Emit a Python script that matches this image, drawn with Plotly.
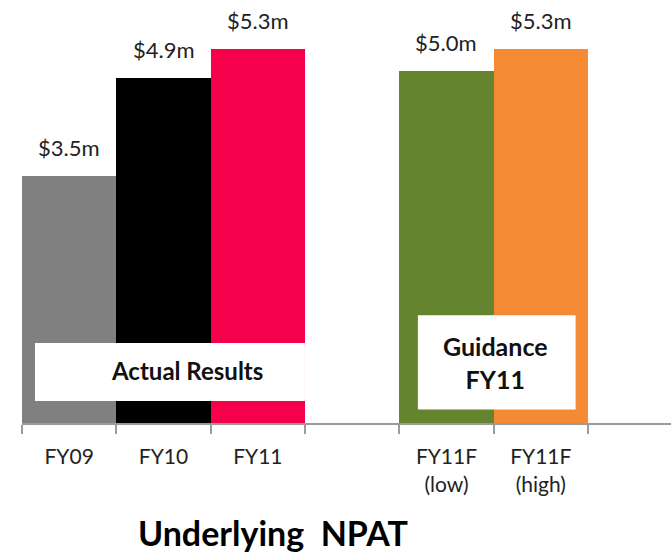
import plotly.graph_objects as go

# ---- data ----
categories = ["FY09", "FY10", "FY11", " ", "FY11F<br>(low)", "FY11F<br>(high)"]
bar_categories = ["FY09", "FY10", "FY11", "FY11F<br>(low)", "FY11F<br>(high)"]
npat_values = [3.5, 4.9, 5.3, 5.0, 5.3]
bar_colors = ["#808080", "#000000", "#F5004B", "#64842F", "#F48B34"]
value_labels = ["$3.5m", "$4.9m", "$5.3m", "$5.0m", "$5.3m"]

FONT = "Lato, 'Open Sans', 'DejaVu Sans', sans-serif"

fig = go.Figure()
fig.add_trace(go.Bar(
    x=bar_categories,
    y=npat_values,
    marker=dict(color=bar_colors, line=dict(width=0)),
    width=1.0,
    hoverinfo="skip",
))

# value labels above bars
for cat, val, lab in zip(bar_categories, npat_values, value_labels):
    fig.add_annotation(
        x=cat, y=val, xref="x", yref="y", text=lab, showarrow=False,
        yanchor="bottom", yshift=13,
        font=dict(family=FONT, size=22, color="#222222"),
    )

# "Actual Results" box
fig.add_shape(type="rect", xref="paper", yref="paper",
              x0=0.020, x1=0.436, y0=0.052, y1=0.189,
              fillcolor="white", line=dict(width=0), layer="above")
fig.add_annotation(xref="paper", yref="paper", x=0.255, y=0.123,
                   text="<b>Actual Results</b>", showarrow=False,
                   xanchor="center", yanchor="middle",
                   font=dict(family=FONT, size=24, color="#111111"))

# "Guidance FY11" box
fig.add_shape(type="rect", xref="paper", yref="paper",
              x0=0.610, x1=0.853, y0=0.032, y1=0.255,
              fillcolor="white", line=dict(width=0), layer="above")
fig.add_annotation(xref="paper", yref="paper", x=0.730, y=0.143,
                   text="<b>Guidance<br>FY11</b>", showarrow=False,
                   xanchor="center", yanchor="middle",
                   font=dict(family=FONT, size=25, color="#111111"))

# title below chart
fig.add_annotation(xref="paper", yref="paper", x=0.387, y=-0.3097,
                   text="<b>Underlying  NPAT</b>", showarrow=False,
                   xanchor="center", yanchor="bottom", borderpad=0,
                   font=dict(family=FONT, size=34, color="#000000"))

fig.update_layout(
    width=671, height=556,
    margin=dict(l=22, r=0, t=0, b=133),
    paper_bgcolor="white", plot_bgcolor="white",
    bargap=0, showlegend=False,
    xaxis=dict(
        type="category", categoryorder="array", categoryarray=categories,
        range=[-0.5, 6.38],
        tickson="boundaries", ticks="outside", ticklen=9, tickwidth=2,
        tickcolor="#9a9a9a", ticklabelstandoff=14,
        showline=True, linecolor="#9a9a9a", linewidth=2,
        showgrid=False, zeroline=False,
        tickfont=dict(family=FONT, size=21, color="#222222"),
        fixedrange=True,
    ),
    yaxis=dict(range=[0, 6], visible=False, showgrid=False, fixedrange=True),
)

fig.write_html(
    "out.html",
    config={"displayModeBar": False},
    post_script="document.body.style.margin='0';document.body.style.overflow='hidden';",
)
